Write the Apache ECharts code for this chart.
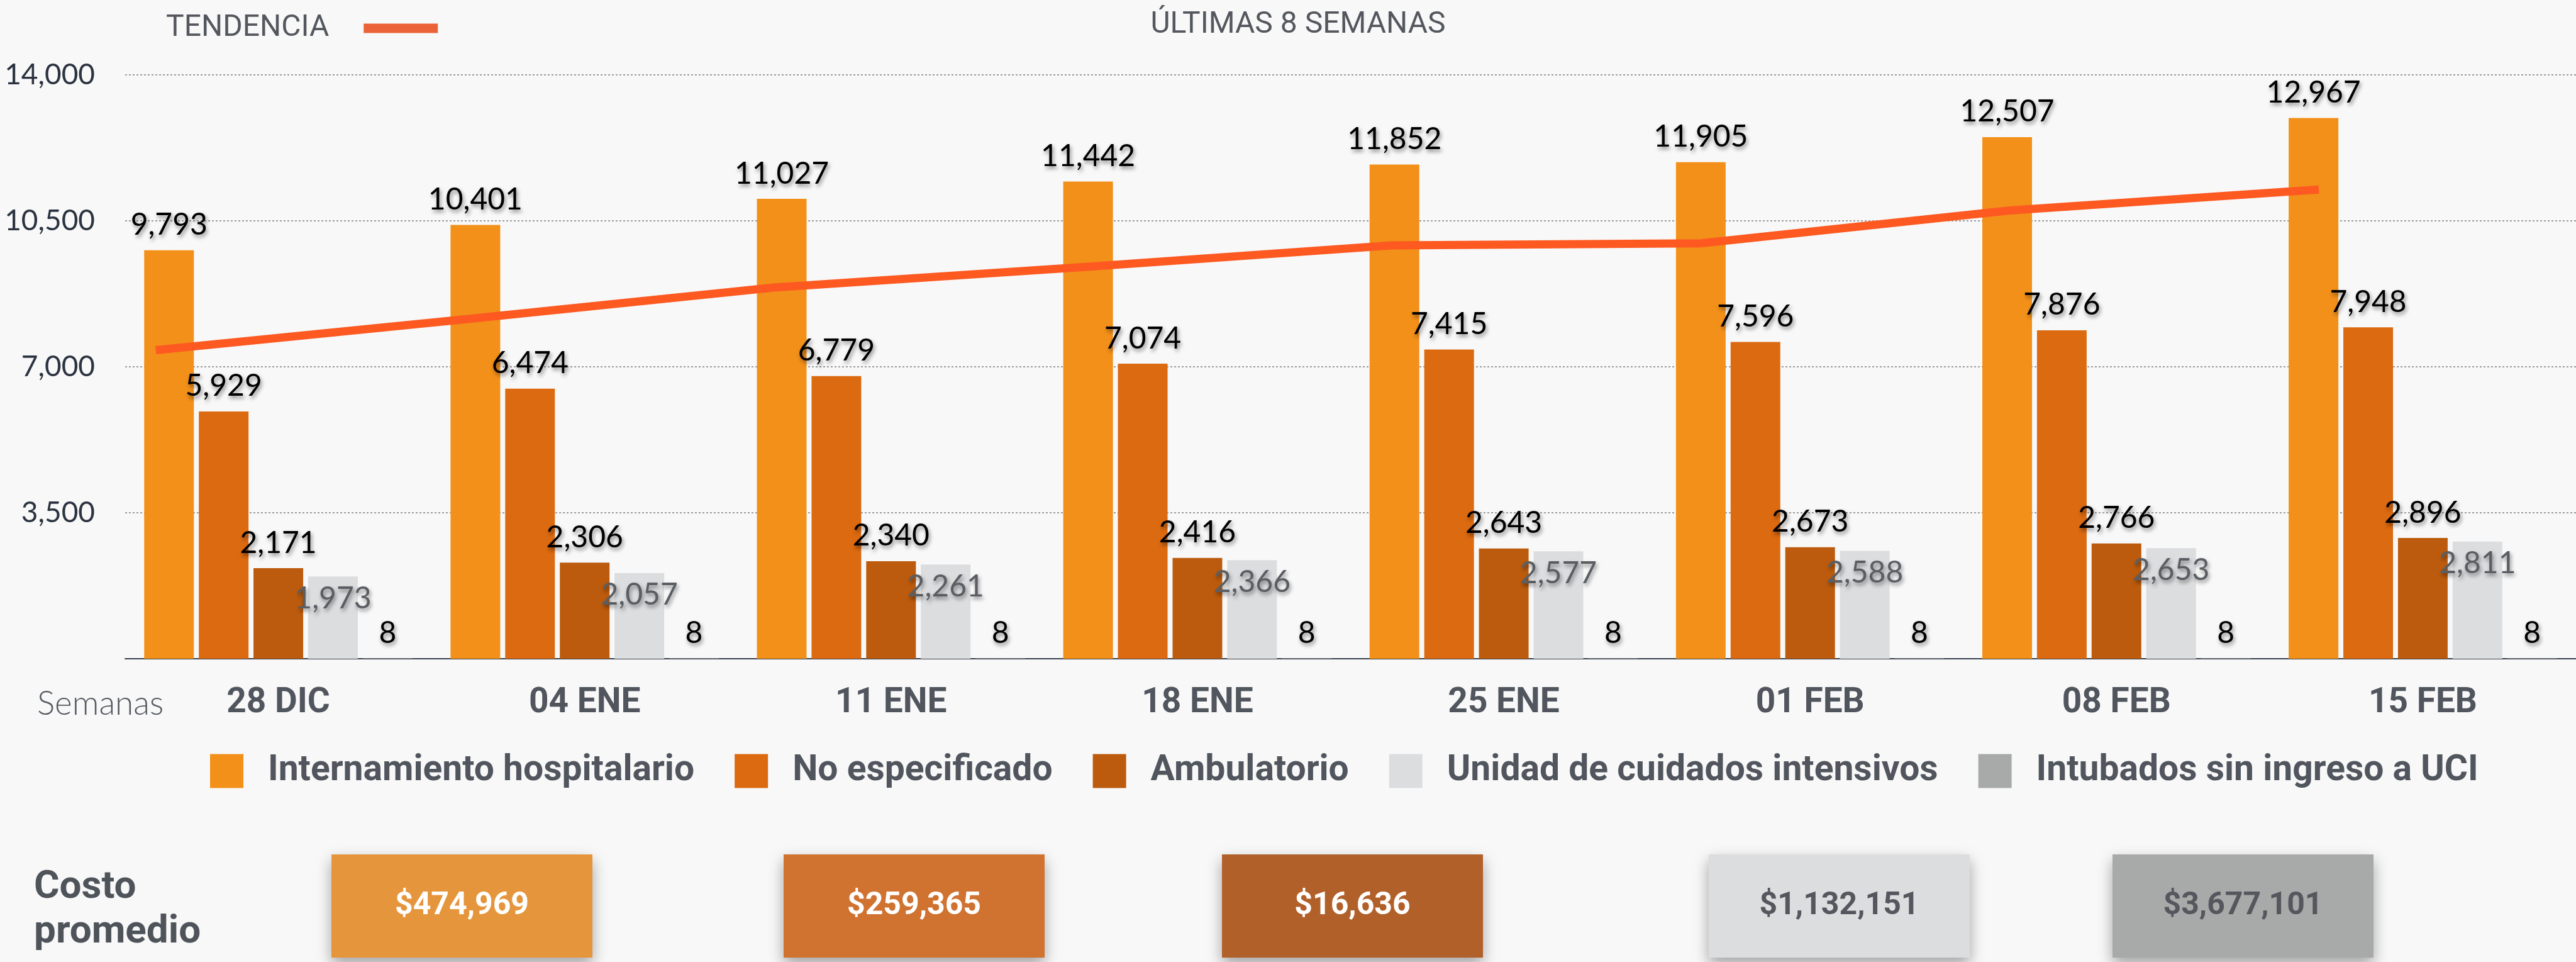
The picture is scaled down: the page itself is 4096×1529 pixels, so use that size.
<!DOCTYPE html>
<html>
<head>
<meta charset="utf-8">
<script src="https://cdn.jsdelivr.net/npm/echarts@6/dist/echarts.min.js"></script>
<style>
  html, body { margin: 0; padding: 0; background: #F8F8F8; }
  #chart { width: 4096px; height: 1529px; }
</style>
</head>
<body>
<div id="chart"></div>
<script>
// ---------- data ----------
const categories = ['28 DIC', '04 ENE', '11 ENE', '18 ENE', '25 ENE', '01 FEB', '08 FEB', '15 FEB'];
const seriesNames = ['Internamiento hospitalario', 'No especificado', 'Ambulatorio', 'Unidad de cuidados intensivos', 'Intubados sin ingreso a UCI'];
const internamiento = [9793, 10401, 11027, 11442, 11852, 11905, 12507, 12967];
const noEspecificado = [5929, 6474, 6779, 7074, 7415, 7596, 7876, 7948];
const ambulatorio = [2171, 2306, 2340, 2416, 2643, 2673, 2766, 2896];
const uci = [1973, 2057, 2261, 2366, 2577, 2588, 2653, 2811];
const intubados = [8, 8, 8, 8, 8, 8, 8, 8];
const tendencia = [7400, 8140, 8900, 9390, 9910, 9960, 10750, 11250];
const yTicks = [0, 3500, 7000, 10500, 14000];
const costLabel = ['Costo', 'promedio'];
const costValues = ['$474,969', '$259,365', '$16,636', '$1,132,151', '$3,677,101'];
const trendName = 'TENDENCIA';
const periodTitle = 'ÚLTIMAS 8 SEMANAS';
const xAxisTitle = 'Semanas';

// ---------- styles ----------
const barColors = ['#F2901A', '#DC6A11', '#BC5B0D', '#DCDDDF', '#A7AAA8'];
const costColors = ['#E5963D', '#D07230', '#B2602A', '#DCDDDF', '#A7AAA8'];
const costTextColors = ['#ffffff', '#ffffff', '#ffffff', '#54585e', '#54585e'];
const greyText = '#51565e';

const chart = echarts.init(document.getElementById('chart'), null, { renderer: 'canvas' });

const fmt = v => Number(v).toLocaleString('en-US');

const labelBase = {
  show: true,
  position: 'top',
  distance: 16,
  fontFamily: 'Lato',
  fontSize: 48,
  color: '#000000',
  textShadowColor: 'rgba(0,0,0,0.45)',
  textShadowBlur: 6,
  textShadowOffsetX: 2,
  textShadowOffsetY: 4,
  formatter: p => fmt(p.value)
};

const barData = [internamiento, noEspecificado, ambulatorio, uci, intubados];
const barSeries = barData.map((arr, k) => ({
  name: seriesNames[k],
  type: 'bar',
  data: arr,
  barWidth: 79,
  barGap: '10%',
  itemStyle: { color: barColors[k] },
  label: k === 3
    ? Object.assign({}, labelBase, { position: 'insideTop', distance: 11, color: '#5a5e63' })
    : Object.assign({}, labelBase),
  z: 2
}));

const trendSeries = {
  name: trendName,
  type: 'line',
  xAxisIndex: 1,
  data: tendencia.map((v, i) => [0.10 + i * 1.0086, v]),
  symbol: 'none',
  lineStyle: { color: '#FD5921', width: 13, cap: 'butt', join: 'miter' },
  itemStyle: { color: '#EB6339' },
  z: 4
};

// cost boxes
const costX = [527, 1246, 1943, 2717, 3359];
const costGraphics = [];
costValues.forEach((v, i) => {
  costGraphics.push({
    type: 'rect',
    left: costX[i], top: 1358,
    shape: { width: 415, height: 164 },
    style: { fill: costColors[i], shadowBlur: 22, shadowOffsetY: 10, shadowColor: 'rgba(0,0,0,0.35)' },
    z: 10
  });
  costGraphics.push({
    type: 'text',
    x: costX[i] + 207.5, y: 1440,
    style: {
      text: v, fill: costTextColors[i],
      font: 'bold 50px Roboto',
      textAlign: 'center', textVerticalAlign: 'middle'
    },
    z: 11
  });
});

const option = {
  animation: false,
  backgroundColor: '#F8F8F8',
  grid: { left: 199, right: -7, top: 119, bottom: 482, containLabel: false },
  legend: [
    {
      data: seriesNames,
      left: 329, top: 1192,
      icon: 'rect',
      itemWidth: 53, itemHeight: 54,
      itemGap: 64,
      selectedMode: false,
      formatter: n => '{t|' + n + '}',
      textStyle: {
        rich: { t: { fontFamily: 'Roboto', fontWeight: 'bold', fontSize: 57, color: greyText, padding: [0, 0, 0, 34] } }
      }
    },
    {
      data: [trendName],
      left: 259, top: 16,
      align: 'right',
      icon: 'rect',
      itemWidth: 118, itemHeight: 15,
      selectedMode: false,
      itemStyle: { color: '#EB6339' },
      formatter: n => '{t|' + n + '}',
      textStyle: {
        rich: { t: { fontFamily: 'Roboto', fontSize: 48, color: '#54585e', padding: [0, 50, 0, 0] } }
      }
    }
  ],
  xAxis: [
    {
      type: 'category',
      data: categories,
      axisLine: { show: true, lineStyle: { color: '#37404c', width: 2 } },
      axisTick: { show: false },
      axisLabel: { fontFamily: 'Roboto', fontWeight: 'bold', fontSize: 55, color: greyText, margin: 44 },
      splitLine: { show: false }
    },
    { type: 'value', min: 0, max: categories.length, show: false }
  ],
  yAxis: {
    type: 'value',
    min: yTicks[0], max: yTicks[yTicks.length - 1], interval: yTicks[1] - yTicks[0],
    axisLine: { show: false },
    axisTick: { show: false },
    axisLabel: { fontFamily: 'Lato', fontSize: 46, color: '#2b3340', margin: 48, showMinLabel: false,
      formatter: v => (v === yTicks[0] ? '' : fmt(v)) },
    splitLine: { lineStyle: { color: '#9a9a9a', width: 2, type: [3, 3] } }
  },
  series: barSeries.concat([trendSeries]),
  graphic: [
    {
      type: 'text', x: 2064, y: 40,
      style: { text: periodTitle, font: '48px Roboto', fill: '#54585e', textAlign: 'center', textVerticalAlign: 'middle' }
    },
    {
      type: 'text', x: 59, y: 1119,
      style: { text: xAxisTitle, font: '300 53px Lato', fill: '#555a61', textAlign: 'left', textVerticalAlign: 'middle' }
    },
    {
      type: 'text', x: 54, y: 1376,
      style: { text: costLabel.join('\n'), font: 'bold 62px Roboto', lineHeight: 71, fill: '#4f545b', textAlign: 'left', textVerticalAlign: 'top' }
    }
  ].concat(costGraphics)
};

chart.setOption(option);
</script>
</body>
</html>
